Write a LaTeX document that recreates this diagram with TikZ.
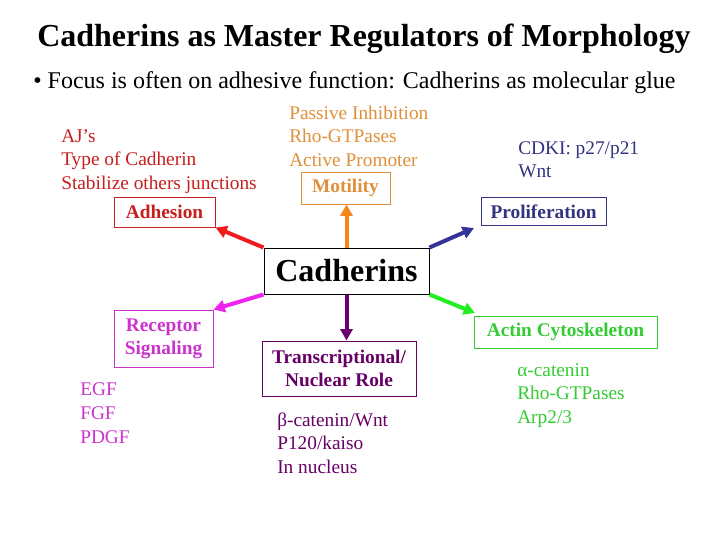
\documentclass[tikz,border=0pt]{standalone}
\usepackage{fontspec}
\setmainfont{Liberation Serif}
\usetikzlibrary{arrows.meta}
\definecolor{cred}{HTML}{C81E1E}
\definecolor{ared}{HTML}{EE1C1C}
\definecolor{corange}{HTML}{E0903A}
\definecolor{aorange}{HTML}{F5861A}
\definecolor{cnavy}{HTML}{333380}
\definecolor{anavy}{HTML}{333399}
\definecolor{cmag}{HTML}{CC33CC}
\definecolor{amag}{HTML}{F022F0}
\definecolor{cpurp}{HTML}{660066}
\definecolor{apurp}{HTML}{6A0070}
\definecolor{cgreen}{HTML}{33CC33}
\definecolor{agreen}{HTML}{22EE22}
\begin{document}
\begin{tikzpicture}[x=0.75pt,y=-0.75pt,
  lbl/.style={anchor=base west, inner sep=0pt, font=\fontsize{14.5}{17}\selectfont},
  box/.style={draw, line width=0.75pt, inner sep=0pt, font=\fontsize{14.5}{17.3}\selectfont\bfseries, align=center},
  arr/.style={line width=3pt, -{Triangle[length=8.5pt,width=9pt]}}]
\useasboundingbox (0,0) rectangle (720,540);
\fill[white] (0,0) rectangle (720,540);

% title
\node[anchor=base west, inner sep=0pt, font=\fontsize{24}{28}\selectfont\bfseries] (title) at (37,46) {Cadherins as Master Regulators of Morphology};
\node[anchor=base west, inner sep=0pt, font=\fontsize{18}{22}\selectfont] (sub) at (33,88) {• Focus is often on adhesive function: Cadherins as molecular glue};

% central box
\node[box, font=\fontsize{24}{28}\selectfont\bfseries, minimum width=165*0.75pt, minimum height=46*0.75pt] (cad) at (346.5,271) {Cadherins};

% adhesion (red)
\node[lbl, text=cred] (r1) at (61,142) {AJ’s};
\node[lbl, text=cred] (r2) at (61,165.5) {Type of Cadherin};
\node[lbl, text=cred] (r3) at (61,189) {Stabilize others junctions};
\node[box, draw=cred, text=cred, minimum width=101*0.75pt, minimum height=30*0.75pt] (adh) at (164.5,212) {Adhesion};

% motility (orange)
\node[lbl, text=corange] (o1) at (289,119) {Passive Inhibition};
\node[lbl, text=corange] (o2) at (289,142.5) {Rho-GTPases};
\node[lbl, text=corange] (o3) at (289,166.5) {Active Promoter};
\node[box, draw=corange, text=corange, minimum width=89*0.75pt, minimum height=32*0.75pt] (mot) at (345.5,188) {Motility};

% proliferation (navy)
\node[lbl, text=cnavy] (n1) at (518,154) {CDKI: p27/p21};
\node[lbl, text=cnavy] (n2) at (518,177.5) {Wnt};
\node[box, draw=cnavy, text=cnavy, minimum width=125*0.75pt, minimum height=28*0.75pt] (prol) at (543.5,211.5) {Proliferation};

% receptor signaling (magenta)
\node[box, draw=cmag, text=cmag, minimum width=99*0.75pt, minimum height=57*0.75pt] (rec) at (163.5,338.5) {Receptor\\Signaling};
\node[lbl, text=cmag] (m1) at (80,395) {EGF};
\node[lbl, text=cmag] (m2) at (80,419) {FGF};
\node[lbl, text=cmag] (m3) at (80,443) {PDGF};

% transcriptional (purple)
\node[box, draw=cpurp, text=cpurp, minimum width=154*0.75pt, minimum height=55*0.75pt] (trans) at (339,368.5) {Transcriptional/\\Nuclear Role};
\node[lbl, text=cpurp] (p1) at (277,426) {β-catenin/Wnt};
\node[lbl, text=cpurp] (p2) at (277,449.5) {P120/kaiso};
\node[lbl, text=cpurp] (p3) at (277,473) {In nucleus};

% actin (green)
\node[box, draw=cgreen, text=cgreen, minimum width=183*0.75pt, minimum height=32*0.75pt] (actin) at (565.5,332) {Actin Cytoskeleton};
\node[lbl, text=cgreen] (g1) at (517,376) {α-catenin};
\node[lbl, text=cgreen] (g2) at (517,399.5) {Rho-GTPases};
\node[lbl, text=cgreen] (g3) at (517,423) {Arp2/3};

% arrows
\coordinate (tipn) at (474,228);
\coordinate (tipg) at (475,313);
\draw[arr, ared] (cad.north west) -- (adh.south east);
\draw[arr, aorange] (cad.north) -- (cad.north |- mot.south);
\draw[arr, anavy] (cad.north east) -- (tipn);
\draw[arr, amag] (cad.south west) -- (rec.north east);
\draw[arr, apurp] (cad.south) -- (cad.south |- trans.north);
\draw[arr, agreen] (cad.south east) -- (tipg);
\end{tikzpicture}
\end{document}
